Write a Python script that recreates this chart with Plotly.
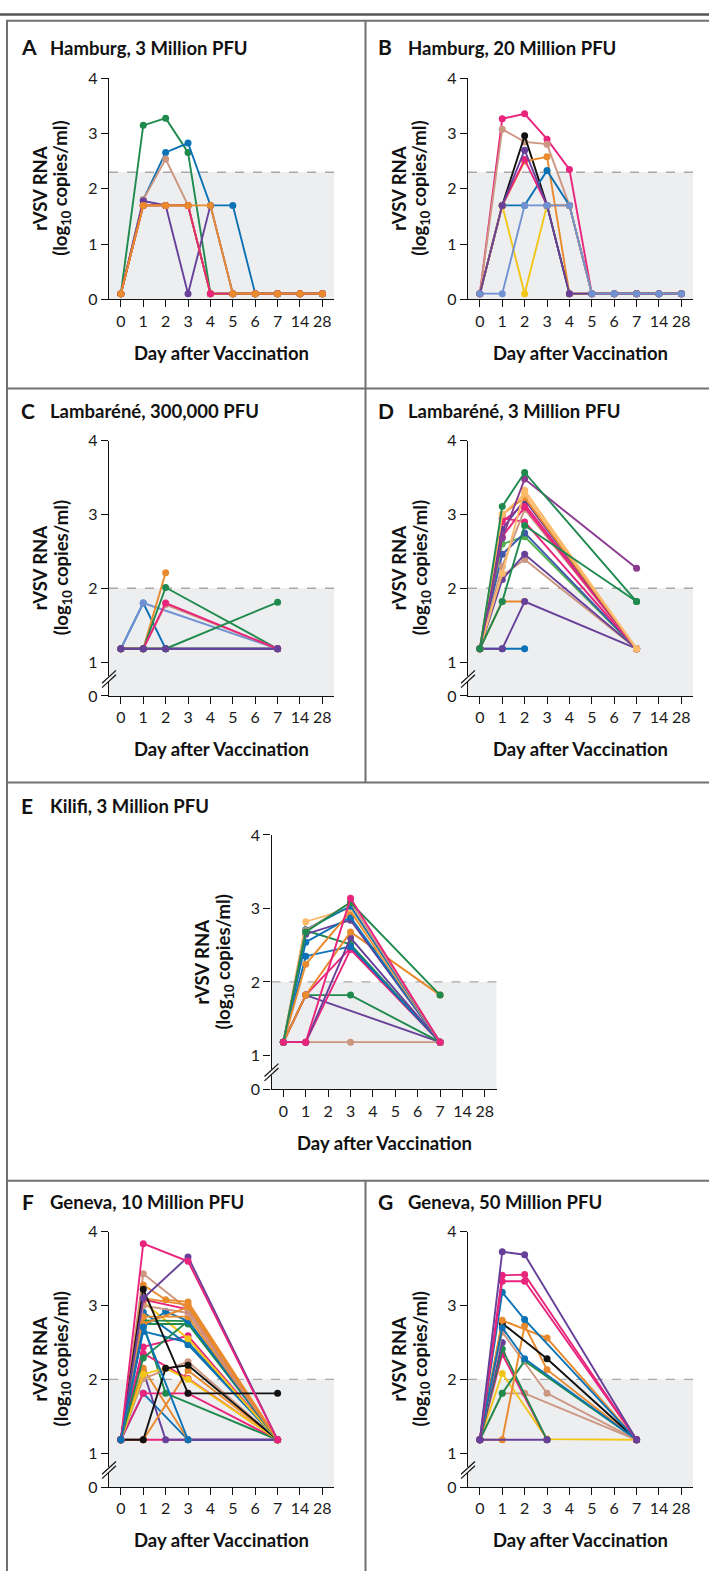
import plotly.graph_objects as go

# ---------------- data ----------------
DAYS = ["0", "1", "2", "3", "4", "5", "6", "7", "14", "28"]

A_DAYS = DAYS
A_VALUES = [
    [0.1, 3.15, 3.28, 2.66, 0.1, 0.1, 0.1, 0.1, 0.1, 0.1],
    [0.1, 1.80, 2.66, 2.83, 1.7, 1.7, 0.1, 0.1, 0.1, 0.1],
    [0.1, 1.80, 2.54, 1.70, 0.1, 0.1, 0.1, 0.1, 0.1, 0.1],
    [0.1, 1.78, 1.70, 0.10, 1.7, 0.1, 0.1, 0.1, 0.1, 0.1],
    [0.1, 1.70, 1.70, 1.70, 0.1, 0.1, 0.1, 0.1, 0.1, 0.1],
    [0.1, 1.70, 1.70, 1.70, 0.1, 0.1, 0.1, 0.1, 0.1, 0.1],
    [0.1, 1.70, 1.70, 1.70, 0.1, 0.1, 0.1, 0.1, 0.1, 0.1],
    [0.1, 1.70, 1.70, 1.70, 1.7, 0.1, 0.1, 0.1, 0.1, 0.1],
]
A_COLORS = ["green", "blue", "tan", "purple", "black", "yellow", "pink", "orange"]

B_DAYS = DAYS
B_VALUES = [
    [0.1, 3.27, 3.36, 2.90, 2.35, 0.1, 0.1, 0.1, 0.1, 0.1],
    [0.1, 3.08, 2.85, 2.81, 1.70, 0.1, 0.1, 0.1, 0.1, 0.1],
    [0.1, 1.70, 2.96, 1.70, 0.10, 0.1, 0.1, 0.1, 0.1, 0.1],
    [0.1, 1.70, 2.50, 2.58, 0.10, 0.1, 0.1, 0.1, 0.1, 0.1],
    [0.1, 1.70, 1.70, 2.33, 1.70, 0.1, 0.1, 0.1, 0.1, 0.1],
    [0.1, 1.70, 2.53, 1.70, 1.70, 0.1, 0.1, 0.1, 0.1, 0.1],
    [0.1, 1.70, 0.10, 1.70, 1.70, 0.1, 0.1, 0.1, 0.1, 0.1],
    [0.1, 1.70, 2.70, 1.70, 0.10, 0.1, 0.1, 0.1, 0.1, 0.1],
    [0.1, 0.10, 1.70, 1.70, 1.70, 0.1, 0.1, 0.1, 0.1, 0.1],
]
B_COLORS = ["pink", "tan", "black", "orange", "blue", "pink", "yellow", "purple", "lightblue"]

C_DAYS = ["0", "1", "2", "7"]
C_VALUES = [
    [1.18, 1.18, 1.18, 1.18],
    [1.18, 1.18, 1.18, 1.18],
    [1.18, 1.80, 1.18, 1.18],
    [1.18, 1.80, None, 1.18],
    [1.18, 1.18, 2.21, None],
    [1.18, 1.18, 2.01, 1.18],
    [1.18, 1.18, 1.78, 1.18],
    [1.18, 1.18, 1.80, 1.18],
    [1.18, 1.18, 1.18, 1.81],
    [1.18, 1.18, 1.18, 1.18],
]
C_COLORS = ["black", "orange", "blue", "lightblue", "orange", "green", "tan", "pink", "green", "purple"]

D_DAYS = ["0", "1", "2", "7"]
D_VALUES = [
    [1.18, 1.18, 1.18, None],
    [1.18, 1.82, 1.82, None],
    [1.18, 1.18, 1.82, 1.18],
    [1.18, 2.17, 2.39, 1.18],
    [1.18, 2.12, 2.46, 1.18],
    [1.18, 2.60, 2.70, 1.18],
    [1.18, 2.46, 2.75, 1.18],
    [1.18, 2.95, 2.90, 1.18],
    [1.18, 2.30, 3.07, 1.18],
    [1.18, 2.70, 3.10, 1.18],
    [1.18, 2.90, 3.14, 1.18],
    [1.18, 2.80, 3.20, 1.18],
    [1.18, 3.00, 3.23, 1.18],
    [1.18, 3.00, 3.28, 1.18],
    [1.18, 2.20, 3.33, 1.18],
    [1.18, 1.82, 2.85, 1.82],
    [1.18, 2.68, 3.48, 2.27],
    [1.18, 3.11, 3.57, 1.82],
]
D_COLORS = ["blue", "orange", "purple", "tan", "purple", "lightgreen", "indigo", "pink", "tan",
            "pink", "pink", "purple", "orange", "lightorange", "lightorange", "green", "plum", "green"]

E_DAYS = ["0", "1", "3", "7"]
E_VALUES = [
    [1.18, 1.18, 1.18, 1.18],
    [1.18, 1.82, None, 1.18],
    [1.18, 1.82, 1.82, 1.18],
    [1.18, 1.18, 2.44, 1.18],
    [1.18, 1.82, 2.46, 1.18],
    [1.18, 2.70, 2.51, 1.18],
    [1.18, 2.35, 2.48, 1.18],
    [1.18, 1.18, 2.60, 1.18],
    [1.18, 1.82, 2.68, 1.82],
    [1.18, 2.65, 2.84, 1.18],
    [1.18, 2.54, 2.88, 1.18],
    [1.18, 2.24, 2.96, 1.18],
    [1.18, 2.82, 3.00, 1.18],
    [1.18, 2.71, 3.03, 1.18],
    [1.18, 2.70, 3.08, 1.18],
    [1.18, 2.68, 3.08, 1.82],
    [1.18, 1.18, 3.14, 1.18],
]
E_COLORS = ["tan", "purple", "green", "pink", "pink", "green", "blue", "purple", "orange",
            "purple", "blue", "orange", "lightorange", "blue", "tan", "green", "pink"]

F_DAYS = ["0", "1", "2", "3", "7"]
F_VALUES = [
    [1.18, 1.18, None, 1.18, 1.18],
    [1.18, 1.81, None, 1.18, 1.18],
    [1.18, 2.11, 1.18, None, 1.18],
    [1.18, 2.15, None, 1.18, None],
    [1.18, 1.18, None, 2.12, 1.18],
    [1.18, 1.81, None, 1.81, 1.18],
    [1.18, 2.75, 1.81, None, 1.18],
    [1.18, 2.01, None, 2.24, 1.18],
    [1.18, 2.35, None, 2.01, 1.18],
    [1.18, 2.07, 2.15, 2.00, 1.18],
    [1.18, 1.18, 2.15, 2.19, 1.18],
    [1.18, 2.44, None, 2.59, 1.18],
    [1.18, 2.65, None, 2.50, 1.18],
    [1.18, 2.91, None, 2.47, 1.18],
    [1.18, 3.05, None, 2.55, 1.18],
    [1.18, 2.29, None, 2.79, 1.18],
    [1.18, 2.75, None, 2.75, 1.18],
    [1.18, 2.80, None, 2.79, 1.18],
    [1.18, 2.71, 2.92, 2.79, 1.18],
    [1.18, 2.85, None, 2.85, 1.18],
    [1.18, 3.00, None, 2.90, 1.18],
    [1.18, 3.08, None, 2.95, 1.18],
    [1.18, 3.43, None, 2.95, 1.18],
    [1.18, 2.75, None, 2.98, 1.18],
    [1.18, 3.10, None, 3.01, 1.18],
    [1.18, 3.28, 3.08, 3.05, 1.18],
    [1.18, 3.22, None, 1.81, 1.81],
    [1.18, 3.10, None, 3.66, 1.18],
    [1.18, 3.84, None, 3.60, 1.18],
    [1.18, 2.71, None, 1.18, None],
]
F_COLORS = ["pink", "blue", "purple", "orange", "orange", "pink", "green", "tan", "pink", "yellow",
            "black", "pink", "blue", "blue", "yellow", "green", "green", "green", "blue", "orange",
            "tan", "pink", "tan", "orange", "orange", "orange", "black", "purple", "pink", "blue"]

G_DAYS = ["0", "1", "2", "3", "7"]
G_VALUES = [
    [1.18, 1.81, 1.81, None, 1.18],
    [1.18, 2.08, None, 1.19, 1.18],
    [1.18, 2.34, None, 1.18, None],
    [1.18, 2.41, None, 1.18, None],
    [1.18, 1.81, 2.25, None, 1.18],
    [1.18, 2.50, None, None, None],
    [1.18, 2.64, None, 1.81, 1.18],
    [1.18, 1.18, 2.73, 2.13, 1.18],
    [1.18, 2.76, None, 2.28, 1.18],
    [1.18, 2.80, None, 2.56, 1.18],
    [1.18, 3.18, 2.81, None, 1.18],
    [1.18, 2.70, 2.28, None, 1.18],
    [1.18, 3.33, 3.33, None, 1.18],
    [1.18, 3.41, 3.42, None, 1.18],
    [1.18, 3.73, 3.69, None, 1.18],
    [1.18, None, None, 1.18, None],
]
G_COLORS = ["tan", "yellow", "pink", "green", "green", "purple", "tan", "orange", "black", "orange",
            "blue", "blue", "pink", "pink", "purple", "purple"]

TICK_TEXT = ["0", "1", "2", "3", "4"]

# ---------------- styles ----------------
PALETTE = {
    "green": "#1F8A4D", "blue": "#0B72B5", "pink": "#E8247C", "tan": "#CC9680",
    "purple": "#67409A", "orange": "#E98A2D", "yellow": "#F2C516", "black": "#111111",
    "lightblue": "#7092D2", "lightorange": "#FDBA6A", "lightgreen": "#4DB04D",
    "indigo": "#3F58AA", "plum": "#8A3A90",
}
FONT = "Lato, 'Open Sans', sans-serif"
W, H = 709, 1580
BREAK_LOW = 0.54


def px(x):
    return x / W


def py(y):
    return 1 - y / H


PANELS = [
    dict(letter="A", title="Hamburg, 3 Million PFU", days=A_DAYS, values=A_VALUES, colors=A_COLORS,
         ax=109, ytop=69.3, ybot=292.7, thr=2.3, broken=False, tx=19, ttx=48, ty=37),
    dict(letter="B", title="Hamburg, 20 Million PFU", days=B_DAYS, values=B_VALUES, colors=B_COLORS,
         ax=468, ytop=69.3, ybot=292.7, thr=2.3, broken=False, tx=376, ttx=406, ty=37),
    dict(letter="C", title="Lambaréné, 300,000 PFU", days=C_DAYS, values=C_VALUES, colors=C_COLORS,
         ax=109, ytop=436, ybot=694.3, thr=2.0, broken=True, tx=19, ttx=48, ty=405),
    dict(letter="D", title="Lambaréné, 3 Million PFU", days=D_DAYS, values=D_VALUES, colors=D_COLORS,
         ax=468, ytop=436, ybot=694.3, thr=2.0, broken=True, tx=376, ttx=406, ty=405),
    dict(letter="E", title="Kilifi, 3 Million PFU", days=E_DAYS, values=E_VALUES, colors=E_COLORS,
         ax=271.5, ytop=835, ybot=1092.3, thr=2.0, broken=True, tx=19, ttx=48, ty=805),
    dict(letter="F", title="Geneva, 10 Million PFU", days=F_DAYS, values=F_VALUES, colors=F_COLORS,
         ax=109, ytop=1236.7, ybot=1495, thr=2.0, broken=True, tx=20, ttx=48, ty=1206),
    dict(letter="G", title="Geneva, 50 Million PFU", days=G_DAYS, values=G_VALUES, colors=G_COLORS,
         ax=468, ytop=1236.7, ybot=1495, thr=2.0, broken=True, tx=376, ttx=406, ty=1206),
]

fig = go.Figure()
layout = dict(width=W, height=H, margin=dict(l=0, r=0, t=0, b=0),
              paper_bgcolor="white", plot_bgcolor="white", showlegend=False,
              font=dict(family=FONT, color="#1a1a1a"))
shapes, annotations = [], []

PLOT_W = 225.0
XR = [-0.53, 9.52]
TICK_FONT = dict(family=FONT, size=16, color="#1a1a1a")

for i, p in enumerate(PANELS, start=1):
    xa = "x" if i == 1 else f"x{i}"
    ya = "y" if i == 1 else f"y{i}"
    xk = "xaxis" if i == 1 else f"xaxis{i}"
    yk = "yaxis" if i == 1 else f"yaxis{i}"
    ylow = BREAK_LOW if p["broken"] else 0.0
    for vals, cname in zip(p["values"], p["colors"]):
        c = PALETTE[cname]
        fig.add_trace(go.Scatter(
            x=p["days"], y=vals, mode="lines+markers", connectgaps=True,
            line=dict(color=c, width=1.9), marker=dict(color=c, size=7),
            xaxis=xa, yaxis=ya, cliponaxis=False, hoverinfo="skip"))
    layout[xk] = dict(domain=[px(p["ax"]), px(p["ax"] + PLOT_W)], anchor=ya, type="category",
                      categoryorder="array", categoryarray=DAYS, range=XR,
                      showline=True, linecolor="#111", linewidth=1.4, ticks="outside",
                      ticklen=7, tickwidth=1.4, tickcolor="#111", showgrid=False, zeroline=False,
                      tickfont=TICK_FONT, fixedrange=True)
    layout[yk] = dict(domain=[py(p["ybot"]), py(p["ytop"])], anchor=xa, range=[ylow, 4],
                      tickmode="array", tickvals=[ylow, 1, 2, 3, 4], ticktext=TICK_TEXT,
                      showline=True, linecolor="#111", linewidth=1.4, ticks="outside",
                      ticklen=7, tickwidth=1.4, tickcolor="#111", showgrid=False, zeroline=False,
                      tickfont=TICK_FONT, fixedrange=True)
    if not p["broken"]:
        layout[yk]["tickvals"] = [0, 1, 2, 3, 4]
    # shaded LOQ region and dashed line
    shapes.append(dict(type="rect", xref=f"{xa} domain", yref=ya, x0=0, x1=1, y0=ylow, y1=p["thr"],
                       fillcolor="#EDEEF0", line=dict(width=0), layer="below"))
    shapes.append(dict(type="line", xref=f"{xa} domain", yref=ya, x0=0, x1=1, y0=p["thr"], y1=p["thr"],
                       line=dict(color="#A8A8A8", width=1.4, dash="dash"), layer="below"))
    # axis break marks
    if p["broken"]:
        unit = (p["ybot"] - p["ytop"]) / (4 - BREAK_LOW)
        y1px = p["ytop"] + 3 * unit
        yc = (y1px + p["ybot"]) / 2
        ax = p["ax"]
        shapes.append(dict(type="line", xref="paper", yref="paper", x0=px(ax), x1=px(ax),
                           y0=py(yc - 3), y1=py(yc + 3), line=dict(color="white", width=3)))
        for dy in (-2.2, 2.2):
            shapes.append(dict(type="line", xref="paper", yref="paper",
                               x0=px(ax - 7), y0=py(yc + dy + 6.5), x1=px(ax + 7), y1=py(yc + dy - 6.5),
                               line=dict(color="#111", width=1.2)))
    # titles
    annotations.append(dict(x=px(p["tx"]), y=py(p["ty"]), xref="paper", yref="paper",
                            xanchor="left", yanchor="middle", showarrow=False,
                            text=f"<b>{p['letter']}</b>", font=dict(family=FONT, size=21, color="#111")))
    annotations.append(dict(x=px(p["ttx"]), y=py(p["ty"] + 1), xref="paper", yref="paper",
                            xanchor="left", yanchor="middle", showarrow=False,
                            text=f"<b>{p['title']}</b>", font=dict(family=FONT, size=18.5, color="#111")))
    # axis titles
    cx = p["ax"] + PLOT_W / 2
    annotations.append(dict(x=px(cx), y=py(p["ybot"] + 54), xref="paper", yref="paper",
                            xanchor="center", yanchor="middle", showarrow=False,
                            text="<b>Day after Vaccination</b>", font=dict(family=FONT, size=18.5, color="#111")))
    cy = (p["ytop"] + p["ybot"]) / 2
    annotations.append(dict(x=px(p["ax"] - 69), y=py(cy), xref="paper", yref="paper",
                            xanchor="center", yanchor="middle", showarrow=False, textangle=-90,
                            text="<b>rVSV RNA</b>", font=dict(family=FONT, size=18.5, color="#111")))
    annotations.append(dict(x=px(p["ax"] - 47), y=py(cy), xref="paper", yref="paper",
                            xanchor="center", yanchor="middle", showarrow=False, textangle=-90,
                            text="<b>(log<sub>10</sub> copies/ml)</b>", font=dict(family=FONT, size=18.5, color="#111")))

# frame lines
FRAME = "#707070"


def hline(y, x0, x1, color=FRAME, width=2):
    shapes.append(dict(type="line", xref="paper", yref="paper", x0=px(x0), x1=px(x1),
                       y0=py(y), y1=py(y), line=dict(color=color, width=width)))


def vline(x, y0, y1, color=FRAME, width=2):
    shapes.append(dict(type="line", xref="paper", yref="paper", x0=px(x), x1=px(x),
                       y0=py(y0), y1=py(y1), line=dict(color=color, width=width)))


hline(4.5, 0, W, color="#555555", width=2.5)
hline(11, 6, W)
hline(383, 6, W)
hline(782, 6, W)
hline(1185, 6, W)
vline(7, 10, H)
vline(365.5, 10, 782)
vline(365.5, 1185, H)

layout["shapes"] = shapes
layout["annotations"] = annotations
fig.update_layout(**layout)

# Page fix: run synchronously right after Plotly.newPlot is called (not only when its promise resolves),
# so the plot sits at the page's top-left corner without the default body margin.
FIX_CODE = (
    "var s=document.createElement('style');"
    "s.textContent='html,body{margin:0!important;padding:0!important;overflow:hidden!important;}';"
    "document.head.appendChild(s);"
    "var d=document.getElementById('{plot_id}');"
    "d.style.position='absolute';d.style.left='0px';d.style.top='0px';"
)
PAGE_FIX = "}); " + FIX_CODE + " (function(){"
fig.write_html("out.html", config={"displayModeBar": False}, post_script=PAGE_FIX)
